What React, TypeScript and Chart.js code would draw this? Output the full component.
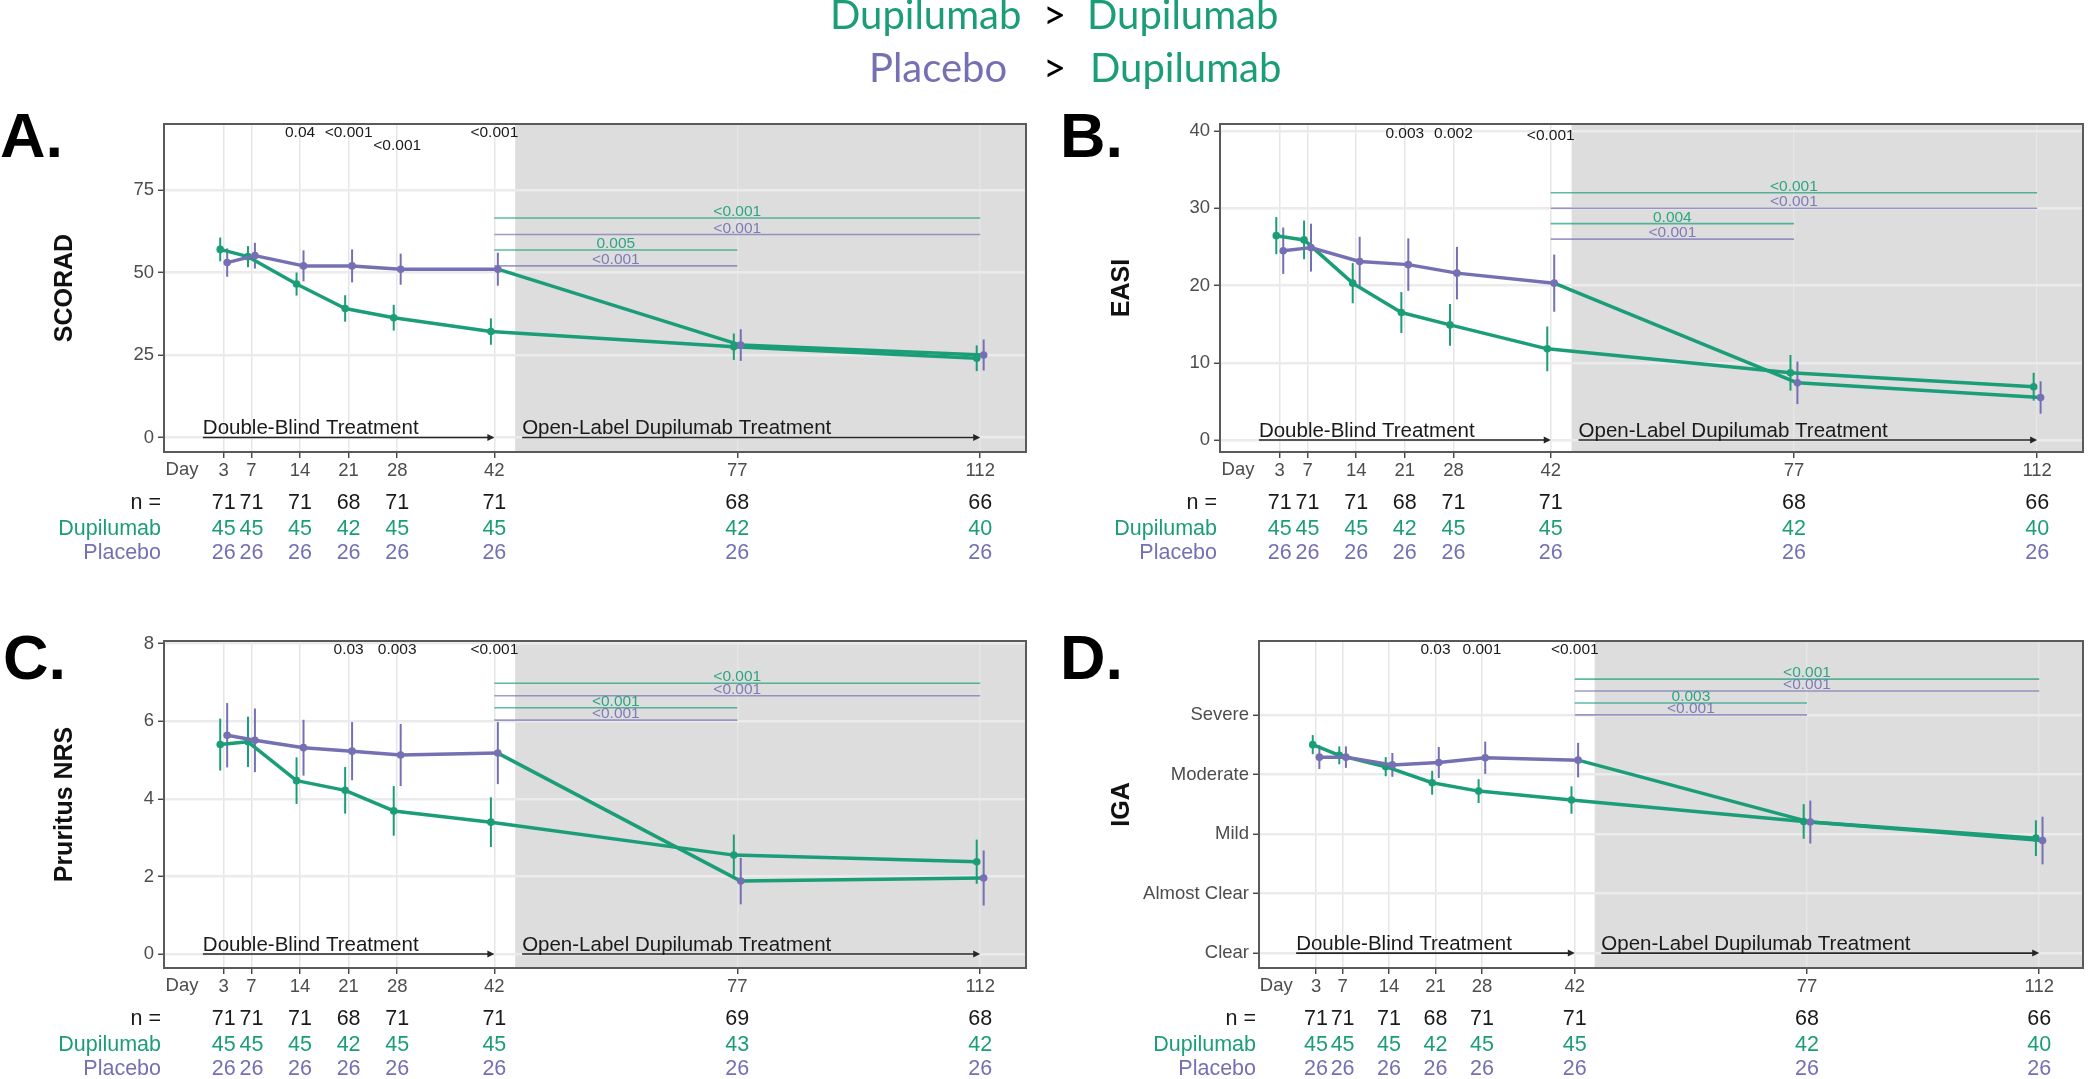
import React, { useEffect, useRef } from 'react';
import { Chart, registerables } from 'chart.js';

Chart.register(...registerables);

const GREEN = '#1B9E77';
const PURPLE = '#7570B3';
const FONT = "'Liberation Sans', Arial, Helvetica, sans-serif";

// ---------- shared data ----------
const days = [3, 7, 14, 21, 28, 42, 77, 112];
const openLabelStart = 45;

// ---------- A. SCORAD ----------
const scoradDup = [57.0, 54.8, 46.5, 39.1, 36.3, 32.1, 27.5, 24.0];
const scoradDupErr = [3.6, 3.2, 3.5, 4.0, 3.9, 4.0, 4.0, 3.9];
const scoradPbo = [53.0, 55.1, 52.0, 52.0, 51.0, 51.0, 28.0, 25.0];
const scoradPboErr = [4.3, 3.9, 4.7, 5.0, 4.7, 5.0, 4.8, 4.7];
const scoradTicks = [0, 25, 50, 75];
const scoradTopP = [
  { day: 14, y: 92.3, text: '0.04' },
  { day: 21, y: 92.3, text: '<0.001' },
  { day: 28, y: 88.4, text: '<0.001' },
  { day: 42, y: 92.3, text: '<0.001' },
];
const scoradBrackets = [
  { from: 42, to: 112, y: 66.5, text: '<0.001', group: 'dup' },
  { from: 42, to: 112, y: 61.5, text: '<0.001', group: 'pbo' },
  { from: 42, to: 77, y: 56.8, text: '0.005', group: 'dup' },
  { from: 42, to: 77, y: 52.0, text: '<0.001', group: 'pbo' },
];
const scoradNAll = [71, 71, 71, 68, 71, 71, 68, 66];
const scoradNDup = [45, 45, 45, 42, 45, 45, 42, 40];
const scoradNPbo = [26, 26, 26, 26, 26, 26, 26, 26];

// ---------- B. EASI ----------
const easiDup = [26.45, 25.9, 20.3, 16.5, 14.9, 11.8, 8.7, 6.9];
const easiDupErr = [2.4, 2.5, 2.6, 2.65, 2.7, 2.9, 2.3, 1.8];
const easiPbo = [24.5, 24.9, 23.1, 22.7, 21.6, 20.3, 7.4, 5.5];
const easiPboErr = [3.0, 3.1, 3.2, 3.4, 3.4, 3.7, 2.75, 2.1];
const easiTicks = [0, 10, 20, 30, 40];
const easiTopP = [
  { day: 21, y: 39.6, text: '0.003' },
  { day: 28, y: 39.6, text: '0.002' },
  { day: 42, y: 39.4, text: '<0.001' },
];
const easiBrackets = [
  { from: 42, to: 112, y: 32, text: '<0.001', group: 'dup' },
  { from: 42, to: 112, y: 30, text: '<0.001', group: 'pbo' },
  { from: 42, to: 77, y: 28, text: '0.004', group: 'dup' },
  { from: 42, to: 77, y: 26, text: '<0.001', group: 'pbo' },
];
const easiNAll = [71, 71, 71, 68, 71, 71, 68, 66];
const easiNDup = [45, 45, 45, 42, 45, 45, 42, 40];
const easiNPbo = [26, 26, 26, 26, 26, 26, 26, 26];

// ---------- C. Pruritus NRS ----------
const nrsDup = [5.40, 5.47, 4.47, 4.22, 3.69, 3.40, 2.55, 2.38];
const nrsDupErr = [0.67, 0.65, 0.6, 0.6, 0.64, 0.64, 0.53, 0.57];
const nrsPbo = [5.64, 5.51, 5.32, 5.23, 5.13, 5.18, 1.88, 1.96];
const nrsPboErr = [0.83, 0.82, 0.72, 0.75, 0.8, 0.8, 0.6, 0.71];
const nrsTicks = [0, 2, 4, 6, 8];
const nrsTopP = [
  { day: 21, y: 7.85, text: '0.03' },
  { day: 28, y: 7.85, text: '0.003' },
  { day: 42, y: 7.85, text: '<0.001' },
];
const nrsBrackets = [
  { from: 42, to: 112, y: 6.98, text: '<0.001', group: 'dup' },
  { from: 42, to: 112, y: 6.66, text: '<0.001', group: 'pbo' },
  { from: 42, to: 77, y: 6.35, text: '<0.001', group: 'dup' },
  { from: 42, to: 77, y: 6.03, text: '<0.001', group: 'pbo' },
];
const nrsNAll = [71, 71, 71, 68, 71, 71, 69, 68];
const nrsNDup = [45, 45, 45, 42, 45, 45, 43, 42];
const nrsNPbo = [26, 26, 26, 26, 26, 26, 26, 26];

// ---------- D. IGA ----------
const igaDup = [3.50, 3.32, 3.13, 2.86, 2.72, 2.57, 2.21, 1.93];
const igaDupErr = [0.16, 0.15, 0.16, 0.2, 0.2, 0.23, 0.29, 0.3];
const igaPbo = [3.29, 3.29, 3.16, 3.20, 3.28, 3.24, 2.20, 1.89];
const igaPboErr = [0.2, 0.18, 0.2, 0.26, 0.27, 0.29, 0.36, 0.4];
const igaTicks = [0, 1, 2, 3, 4];
const igaTickLabels = ['Clear', 'Almost Clear', 'Mild', 'Moderate', 'Severe'];
const igaTopP = [
  { day: 21, y: 5.10, text: '0.03' },
  { day: 28, y: 5.10, text: '0.001' },
  { day: 42, y: 5.10, text: '<0.001' },
];
const igaBrackets = [
  { from: 42, to: 112, y: 4.6, text: '<0.001', group: 'dup' },
  { from: 42, to: 112, y: 4.4, text: '<0.001', group: 'pbo' },
  { from: 42, to: 77, y: 4.2, text: '0.003', group: 'dup' },
  { from: 42, to: 77, y: 4.0, text: '<0.001', group: 'pbo' },
];
const igaNAll = [71, 71, 71, 68, 71, 71, 68, 66];
const igaNDup = [45, 45, 45, 42, 45, 45, 42, 40];
const igaNPbo = [26, 26, 26, 26, 26, 26, 26, 26];

type Box = { left: number; top: number; width: number; height: number };
type Area = { left: number; top: number; right: number; bottom: number };

interface Panel {
  letter: string;
  yTitle: string;
  yMin: number;
  yMax: number;
  yTicks: number[];
  yTickLabels?: string[];
  dup: number[];
  dupErr: number[];
  pbo: number[];
  pboErr: number[];
  topP: { day: number; y: number; text: string }[];
  brackets: { from: number; to: number; y: number; text: string; group: string }[];
  nAll: number[];
  nDup: number[];
  nPbo: number[];
  box: Box;
  area: Area;
  yTitleX: number;
  letterX: number;
  letterY: number;
  header?: boolean;
}

const panels: Panel[] = [
  {
    letter: 'A.', yTitle: 'SCORAD', yMin: -4.4, yMax: 95, yTicks: scoradTicks,
    dup: scoradDup, dupErr: scoradDupErr, pbo: scoradPbo, pboErr: scoradPboErr,
    topP: scoradTopP, brackets: scoradBrackets, nAll: scoradNAll, nDup: scoradNDup, nPbo: scoradNPbo,
    box: { left: 0, top: 0, width: 1300, height: 575 },
    area: { left: 164, top: 124, right: 1026, bottom: 452 },
    yTitleX: 65, letterX: 0, letterY: 157, header: true,
  },
  {
    letter: 'B.', yTitle: 'EASI', yMin: -1.55, yMax: 40.9, yTicks: easiTicks,
    dup: easiDup, dupErr: easiDupErr, pbo: easiPbo, pboErr: easiPboErr,
    topP: easiTopP, brackets: easiBrackets, nAll: easiNAll, nDup: easiNDup, nPbo: easiNPbo,
    box: { left: 1050, top: 100, width: 1050, height: 475 },
    area: { left: 1220, top: 124, right: 2083, bottom: 452 },
    yTitleX: 1122, letterX: 1060, letterY: 157,
  },
  {
    letter: 'C.', yTitle: 'Pruritus NRS', yMin: -0.36, yMax: 8.07, yTicks: nrsTicks,
    dup: nrsDup, dupErr: nrsDupErr, pbo: nrsPbo, pboErr: nrsPboErr,
    topP: nrsTopP, brackets: nrsBrackets, nAll: nrsNAll, nDup: nrsNDup, nPbo: nrsNPbo,
    box: { left: 0, top: 590, width: 1050, height: 489 },
    area: { left: 164, top: 641, right: 1026, bottom: 968 },
    yTitleX: 65, letterX: 3, letterY: 679,
  },
  {
    letter: 'D.', yTitle: 'IGA', yMin: -0.25, yMax: 5.24, yTicks: igaTicks, yTickLabels: igaTickLabels,
    dup: igaDup, dupErr: igaDupErr, pbo: igaPbo, pboErr: igaPboErr,
    topP: igaTopP, brackets: igaBrackets, nAll: igaNAll, nDup: igaNDup, nPbo: igaNPbo,
    box: { left: 1050, top: 590, width: 1050, height: 489 },
    area: { left: 1259, top: 641, right: 2083, bottom: 968 },
    yTitleX: 1122, letterX: 1060, letterY: 679,
  },
];

const DUP_OFFSET = -0.5;
const PBO_OFFSET = 0.5;

function drawArrow(ctx: CanvasRenderingContext2D, x1: number, x2: number, y: number) {
  ctx.strokeStyle = '#262626';
  ctx.fillStyle = '#262626';
  ctx.lineWidth = 1.6;
  ctx.beginPath();
  ctx.moveTo(x1, y);
  ctx.lineTo(x2 - 2, y);
  ctx.stroke();
  ctx.beginPath();
  ctx.moveTo(x2, y);
  ctx.lineTo(x2 - 7, y - 3.5);
  ctx.lineTo(x2 - 7, y + 3.5);
  ctx.closePath();
  ctx.fill();
}

function panelPlugin(p: Panel) {
  return {
    id: 'panelDecor',
    beforeDraw(chart: any) {
      const { ctx, chartArea: a, scales } = chart;
      const gx = scales.x.getPixelForValue(openLabelStart);
      ctx.save();
      ctx.fillStyle = '#DDDDDD';
      ctx.fillRect(gx, a.top, a.right - gx, a.bottom - a.top);
      ctx.restore();
    },
    beforeDatasetsDraw(chart: any) {
      const { ctx, scales } = chart;
      const xs = scales.x;
      const ys = scales.y;
      ctx.save();
      ctx.lineWidth = 2;
      const series: [number[], number[], number, string][] = [
        [p.pbo, p.pboErr, PBO_OFFSET, PURPLE],
        [p.dup, p.dupErr, DUP_OFFSET, GREEN],
      ];
      for (const [vals, errs, off, col] of series) {
        ctx.strokeStyle = col;
        vals.forEach((v, i) => {
          const px = xs.getPixelForValue(days[i] + off);
          ctx.beginPath();
          ctx.moveTo(px, ys.getPixelForValue(v - errs[i]));
          ctx.lineTo(px, ys.getPixelForValue(v + errs[i]));
          ctx.stroke();
        });
      }
      ctx.restore();
    },
    afterDraw(chart: any) {
      const { ctx, chartArea: a, scales } = chart;
      const xs = scales.x;
      const ys = scales.y;
      const ox = p.box.left;
      const oy = p.box.top;
      ctx.save();

      // panel border
      ctx.strokeStyle = '#5A5A5A';
      ctx.lineWidth = 2;
      ctx.strokeRect(a.left, a.top, a.right - a.left, a.bottom - a.top);

      // comparison brackets
      ctx.font = `15.5px ${FONT}`;
      ctx.textAlign = 'center';
      ctx.textBaseline = 'alphabetic';
      for (const b of p.brackets) {
        const col = b.group === 'dup' ? GREEN : PURPLE;
        const x1 = xs.getPixelForValue(b.from);
        const x2 = xs.getPixelForValue(b.to);
        const py = ys.getPixelForValue(b.y);
        ctx.globalAlpha = 0.7;
        ctx.strokeStyle = col;
        ctx.lineWidth = 1.6;
        ctx.beginPath();
        ctx.moveTo(x1, py);
        ctx.lineTo(x2, py);
        ctx.stroke();
        ctx.globalAlpha = 0.9;
        ctx.fillStyle = col;
        ctx.fillText(b.text, (x1 + x2) / 2, py - 2);
      }
      ctx.globalAlpha = 1;

      // top p-values
      ctx.fillStyle = '#1A1A1A';
      ctx.textBaseline = 'middle';
      for (const t of p.topP) {
        ctx.fillText(t.text, xs.getPixelForValue(t.day), ys.getPixelForValue(t.y));
      }

      // treatment arrows
      const y0 = ys.getPixelForValue(0);
      const dbStart = xs.getPixelForValue(0);
      const dbEnd = xs.getPixelForValue(42);
      const olStart = xs.getPixelForValue(46);
      const olEnd = xs.getPixelForValue(112);
      drawArrow(ctx, dbStart, dbEnd, y0);
      drawArrow(ctx, olStart, olEnd, y0);
      ctx.fillStyle = '#1A1A1A';
      ctx.font = `20.5px ${FONT}`;
      ctx.textAlign = 'left';
      ctx.textBaseline = 'alphabetic';
      ctx.fillText('Double-Blind Treatment', dbStart, y0 - 3);
      ctx.fillText('Open-Label Dupilumab Treatment', olStart, y0 - 3);

      // y title
      ctx.save();
      ctx.translate(p.yTitleX - ox, (a.top + a.bottom) / 2);
      ctx.rotate(-Math.PI / 2);
      ctx.font = `bold 25px ${FONT}`;
      ctx.textAlign = 'center';
      ctx.textBaseline = 'middle';
      ctx.fillStyle = '#111111';
      ctx.fillText(p.yTitle, 0, 0);
      ctx.restore();

      // "Day" label
      ctx.font = `18.5px ${FONT}`;
      ctx.fillStyle = '#4D4D4D';
      ctx.textAlign = 'center';
      ctx.textBaseline = 'middle';
      ctx.fillText('Day', xs.getPixelForValue(-3), a.bottom + 18);

      // n table
      ctx.font = `21.5px ${FONT}`;
      const rows: [string, number[], string, number][] = [
        ['n =', p.nAll, '#1A1A1A', 51.5],
        ['Dupilumab', p.nDup, GREEN, 77.5],
        ['Placebo', p.nPbo, PURPLE, 101],
      ];
      for (const [label, vals, col, dy] of rows) {
        ctx.fillStyle = col;
        ctx.textAlign = 'right';
        ctx.fillText(label, a.left - 3, a.bottom + dy);
        ctx.textAlign = 'center';
        vals.forEach((v, i) => ctx.fillText(String(v), xs.getPixelForValue(days[i]), a.bottom + dy));
      }

      // panel letter
      ctx.font = `bold 63px ${FONT}`;
      ctx.fillStyle = '#000000';
      ctx.textAlign = 'left';
      ctx.textBaseline = 'alphabetic';
      ctx.fillText(p.letter, p.letterX - ox, p.letterY - oy);

      // header legend
      if (p.header) {
        ctx.font = `40px Lato, 'Open Sans', sans-serif`;
        ctx.textAlign = 'left';
        ctx.fillStyle = GREEN;
        ctx.fillText('Dupilumab', 830, 29);
        ctx.fillStyle = '#000000';
        ctx.fillText('>', 1043, 29);
        ctx.fillStyle = GREEN;
        ctx.fillText('Dupilumab', 1087, 29);
        ctx.fillStyle = PURPLE;
        ctx.fillText('Placebo', 869, 82);
        ctx.fillStyle = '#000000';
        ctx.fillText('>', 1043, 82);
        ctx.fillStyle = GREEN;
        ctx.fillText('Dupilumab', 1090, 82);
      }

      ctx.restore();
    },
  };
}

function makeChart(canvas: HTMLCanvasElement, p: Panel) {
  const W = p.box.width;
  const H = p.box.height;
  const padTop = p.area.top - p.box.top;
  const yAxisW = p.area.left - p.box.left;
  const padRight = p.box.left + W - p.area.right;
  const xAxisH = p.box.top + H - p.area.bottom;
  const toXY = (vals: number[], off: number) => vals.map((v, i) => ({ x: days[i] + off, y: v }));
  const tickFont = { family: FONT, size: 18.5 };

  return new Chart(canvas, {
    type: 'line',
    data: {
      datasets: [
        {
          label: 'Placebo',
          data: toXY(p.pbo, PBO_OFFSET),
          borderColor: PURPLE,
          backgroundColor: PURPLE,
          pointBackgroundColor: PURPLE,
          pointBorderColor: PURPLE,
          pointRadius: 3.8,
          pointBorderWidth: 0,
          borderWidth: 3.5,
          borderJoinStyle: 'round',
          tension: 0,
          segment: {
            borderColor: (c: any) => (c.p0DataIndex >= 5 ? GREEN : undefined),
          },
        },
        {
          label: 'Dupilumab',
          data: toXY(p.dup, DUP_OFFSET),
          borderColor: GREEN,
          backgroundColor: GREEN,
          pointBackgroundColor: GREEN,
          pointBorderColor: GREEN,
          pointRadius: 3.8,
          pointBorderWidth: 0,
          borderWidth: 3.5,
          borderJoinStyle: 'round',
          tension: 0,
        },
      ],
    } as any,
    options: {
      animation: false,
      responsive: false,
      maintainAspectRatio: false,
      devicePixelRatio: 1,
      events: [],
      layout: { autoPadding: false, padding: { top: padTop, right: padRight, left: 0, bottom: 0 } },
      plugins: { legend: { display: false }, tooltip: { enabled: false }, title: { display: false } },
      scales: {
        x: {
          type: 'linear',
          min: -5.6,
          max: 118.6,
          afterBuildTicks: (s: any) => {
            s.ticks = days.map((v) => ({ value: v }));
          },
          afterFit: (s: any) => {
            s.height = xAxisH;
          },
          grid: { color: '#E6E6E6', lineWidth: 1.5, tickColor: '#333333', tickLength: 6, tickWidth: 1.3, drawTicks: true },
          border: { display: false },
          ticks: { font: tickFont, color: '#4D4D4D', padding: 2, autoSkip: false, maxRotation: 0, callback: (v: any) => String(v) },
        },
        y: {
          type: 'linear',
          min: p.yMin,
          max: p.yMax,
          afterBuildTicks: (s: any) => {
            s.ticks = p.yTicks.map((v) => ({ value: v }));
          },
          afterFit: (s: any) => {
            s.width = yAxisW;
          },
          grid: { color: '#EBEBEB', lineWidth: 2.5, tickColor: '#333333', tickLength: 6, tickWidth: 1.3, drawTicks: true },
          border: { display: false },
          ticks: {
            font: tickFont,
            color: '#4D4D4D',
            padding: 4,
            autoSkip: false,
            callback: (v: any) => (p.yTickLabels ? p.yTickLabels[v] : String(v)),
          },
        },
      },
    } as any,
    plugins: [panelPlugin(p)],
  });
}

function PanelChart({ p }: { p: Panel }) {
  const ref = useRef<HTMLCanvasElement>(null);
  useEffect(() => {
    if (!ref.current) return;
    const chart = makeChart(ref.current, p);
    return () => chart.destroy();
  }, [p]);
  return (
    <canvas
      ref={ref}
      width={p.box.width}
      height={p.box.height}
      style={{ position: 'absolute', left: p.box.left, top: p.box.top, width: p.box.width, height: p.box.height }}
    />
  );
}

export default function App() {
  return (
    <div style={{ position: 'absolute', left: 0, top: 0, width: 2100, height: 1079, background: '#ffffff', overflow: 'hidden' }}>
      {panels.map((p) => (
        <PanelChart key={p.letter} p={p} />
      ))}
    </div>
  );
}
